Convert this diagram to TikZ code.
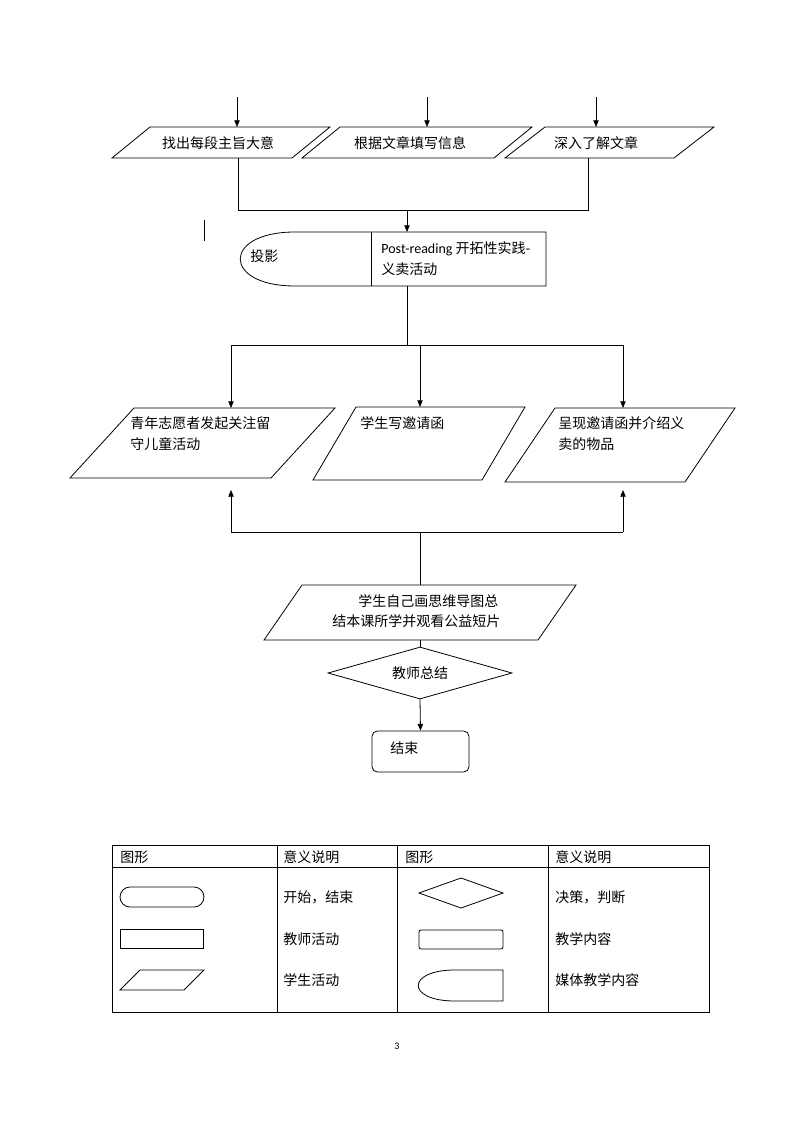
\documentclass[tikz,border=0pt]{standalone}
\usepackage{fontspec}
\setmainfont{Noto Sans CJK SC}
\newfontfamily\latfont{Carlito}
\usetikzlibrary{arrows.meta,shapes.geometric,calc}
\newcommand\mypara[6]{% name, cx, cy, w, h, slant
  \node[box,minimum width=#4*0.75pt,minimum height=#5*0.75pt] (#1) at (#2,#3) {};
  \draw ($(#1.north west)+(#6,0)$) -- (#1.north east) -- ($(#1.south east)-(#6,0)$) -- (#1.south west) -- cycle;
}
\begin{document}
\begin{tikzpicture}[x=0.75pt,y=-0.75pt,line width=0.6pt,
  arr/.style={-{Triangle[length=5pt,width=4pt]}},
  box/.style={draw=none,inner sep=0pt,outer sep=0pt},
  txt/.style={inner sep=0pt,anchor=west,font=\fontsize{10.5}{12}\selectfont},
  ctxt/.style={inner sep=0pt,font=\fontsize{10.5}{12}\selectfont},
]
\path[fill=white] (0,0) rectangle (794,1123);

% top row
\mypara{p1}{221}{142.5}{218}{31}{38}
\mypara{p2}{417}{142.5}{230}{31}{38}
\mypara{p3}{609.5}{142.5}{209}{31}{40}
\node[ctxt] (t1) at (218,143) {找出每段主旨大意};
\node[ctxt] (t2) at (410,143) {根据文章填写信息};
\node[ctxt] (t3) at (596,143) {深入了解文章};
\coordinate (s1) at (237,97);
\coordinate (s2) at (427,97);
\coordinate (s3) at (596,97);
\draw[arr] (s1) -- (s1 |- p1.north);
\draw[arr] (s2) -- (s2 |- p2.north);
\draw[arr] (s3) -- (s3 |- p3.north);
\coordinate (j1) at (238,210);
\coordinate (j3) at (588,210);
\coordinate (jm) at (407,210);
\draw (j1 |- p1.south) -- (j1) -- (j3) -- (j3 |- p3.south);

% stray mark
\coordinate (m1) at (204,220);
\coordinate (m2) at (204,241);
\draw (m1) -- (m2);

% media node
\node[box,minimum width=306*0.75pt,minimum height=54*0.75pt] (media) at (393,259) {};
\draw (295,286) .. controls (222,286) and (222,232) .. (295,232) -- (546,232) -- (546,286) -- cycle;
\draw (371,232) -- (371,286);
\draw[arr] (jm) -- (jm |- media.north);
\node[txt] (ty) at (250,256) {投影};
\node[txt] (tp1) at (381,249) {{\latfont Post-reading} 开拓性实践-};
\node[txt] (tp2) at (381,269) {义卖活动};

% middle row
\coordinate (k0) at (407,345);
\coordinate (k1) at (231,345);
\coordinate (k2) at (420,345);
\coordinate (k3) at (623,345);
\draw (k0 |- media.south) -- (k0);
\draw (k1) -- (k3);
\mypara{p4}{202.5}{443}{265}{70}{64}
\mypara{p5}{419}{443.5}{212}{73}{43}
\mypara{p6}{620}{445}{230}{74}{50}
\draw[arr] (k1) -- (k1 |- p4.north);
\draw[arr] (k2) -- (k2 |- p5.north);
\draw[arr] (k3) -- (k3 |- p6.north);
\node[txt] (t41) at (130,423) {青年志愿者发起关注留};
\node[txt] (t42) at (130,444) {守儿童活动};
\node[txt] (t5) at (360,423) {学生写邀请函};
\node[txt] (t61) at (558,423) {呈现邀请函并介绍义};
\node[txt] (t62) at (558,444) {卖的物品};

% upward arrows
\coordinate (u1) at (231,532);
\coordinate (u3) at (623,532);
\coordinate (u2) at (420,532);
\coordinate (e1) at (231,490);
\coordinate (e3) at (623,490);
\draw (u1) -- (u3);
\draw[arr] (u1) -- (e1);
\draw[arr] (u3) -- (e3);

% summary
\mypara{p7}{420}{612.5}{312}{55}{38}
\draw (u2) -- (u2 |- p7.north);
\node[txt] (t71) at (358,601) {学生自己画思维导图总};
\node[txt] (t72) at (332,621) {结本课所学并观看公益短片};

\node[draw,shape=diamond,inner sep=0pt,minimum width=184*0.75pt,minimum height=52*0.75pt] (dec) at (420,673) {};
\node[ctxt] (tdec) at (420,673) {教师总结};
\draw (p7.south -| dec.north) -- (dec.north);

\node[draw,rounded corners=4pt,minimum width=97*0.75pt,minimum height=41*0.75pt,inner sep=0pt] (end) at (420.5,751.5) {};
\node[txt] (tend) at (390,748) {结束};
\draw[arr] (dec.south) -- (end.north);

% legend table
\draw (112,845) rectangle (709,1012);
\draw (112,867) -- (709,867);
\foreach \x in {277,397,548} \draw (\x,845) -- (\x,1012);
\node[txt] (h1) at (120,857) {图形};
\node[txt] (h2) at (283,857) {意义说明};
\node[txt] (h3) at (405,857) {图形};
\node[txt] (h4) at (555,857) {意义说明};
\draw[rounded corners=7.5pt] (120,887) rectangle (204,907);
\node[txt] (l1) at (283,897) {开始，结束};
\draw (419,893) -- (461,878) -- (503,893) -- (461,908) -- cycle;
\node[txt] (l2) at (555,897) {决策，判断};
\draw (120,929) rectangle (203,948);
\node[txt] (l3) at (283,939) {教师活动};
\draw[rounded corners=1.5pt] (419,930) rectangle (503,949);
\node[txt] (l4) at (555,939) {教学内容};
\draw (120,990) -- (140,970) -- (204,970) -- (184,990) -- cycle;
\node[txt] (l5) at (283,980) {学生活动};
\draw (455,970) -- (503,970) -- (503,1001) -- (455,1001) .. controls (406,1001) and (406,970) .. (455,970);
\node[txt] (l6) at (555,980) {媒体教学内容};

\node[inner sep=0pt,font=\latfont\fontsize{7.5}{9}\selectfont] (pg) at (397,1046) {3};
\end{tikzpicture}
\end{document}
